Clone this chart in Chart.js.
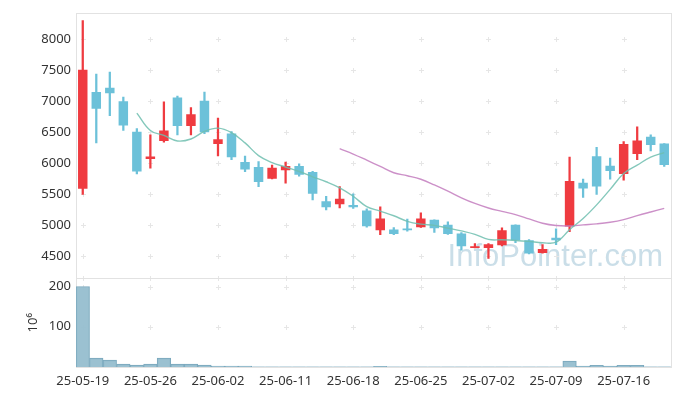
<!DOCTYPE html>
<html>
<head>
<meta charset="utf-8">
<script src="https://cdn.jsdelivr.net/npm/chart.js@4.4.0/dist/chart.umd.min.js"></script>
<style>
  html, body { margin: 0; padding: 0; background: #fff; }
  #wrap { width: 680px; height: 396px; }
</style>
</head>
<body>
<div id="wrap"><canvas id="chart"></canvas></div>
<script>
const dates = ['25-05-19','25-05-20','25-05-21','25-05-22','25-05-23','25-05-26','25-05-27','25-05-28','25-05-29','25-05-30',
  '25-06-02','25-06-04','25-06-05','25-06-09','25-06-10','25-06-11','25-06-12','25-06-13','25-06-16','25-06-17',
  '25-06-18','25-06-19','25-06-20','25-06-23','25-06-24','25-06-25','25-06-26','25-06-27','25-06-30','25-07-01',
  '25-07-02','25-07-03','25-07-04','25-07-07','25-07-08','25-07-09','25-07-10','25-07-11','25-07-14','25-07-15',
  '25-07-16','25-07-17','25-07-18','25-07-21'];
const opens  = [5590,7150,7220,7000,6510,6070,6360,7060,6600,7010, 6310,6480,6020,5940,5750,5890,5955,5860,5390,5340,
  5330,5240,4920,4935,4950,4970,5090,5010,4870,4635, 4635,4680,5010,4760,4555,4800,4980,5685,6115,5960, 5830,6150,6430,6320];
const highs  = [8300,7440,7470,7070,6560,6460,6990,7085,6900,7150, 6730,6510,6115,6030,5970,6020,5990,5870,5470,5625,
  5510,5265,5300,4965,5100,5200,5090,5055,4885,4705, 4705,4960,5010,4770,4690,4945,6100,5745,6260,6085, 6350,6590,6460,6320];
const lows   = [5500,6330,6770,6530,5830,5920,6340,6460,6460,6480, 6120,6060,5865,5625,5750,5680,5795,5410,5250,5280,
  5275,4970,4850,4850,4905,4965,4885,4855,4600,4635, 4465,4670,4720,4540,4550,4690,4900,5450,5500,5745, 5730,6060,6200,5950];
const closes = [7510,6880,7130,6610,5870,6110,6530,6600,6790,6500, 6390,6100,5900,5700,5930,5955,5815,5510,5290,5430,
  5290,4985,5110,4860,4920,5110,4955,4860,4665,4665, 4695,4920,4760,4545,4620,4760,5715,5595,5625,5875, 6310,6370,6295,5975];
// moving averages
const ma5 = [null,null,null,null,6810,6530,6450,6360,6392,6514, 6568,6495,6330,6125,6012,5940,5868,5783,5703,5605,
  5469,5303,5230,5155,5065,5020,5000,4955,4910,4855, 4773,4767,4757,4741,4720,4728,4930,5110,5330,5580, 5835,5970,6100,6172];
const ma20 = [null,null,null,null,null,null,null,null,null,null, null,null,null,null,null,null,null,null,null,6238,
  6150,6051,5950,5848,5800,5743,5652,5551,5444,5353, 5280,5225,5173,5104,5034,4997,4990,5008,5024,5050, 5093,5157,5216,5273];
// volume, units of 10^6
const volumes = [200,22,17,7,5,7,22,7,7,5, 2.5,2.5,2.5,0.6,0.5,0.5,0.5,0.4,0.4,0.5, 0.5,0.4,1.8,0.4,0.4,0.4,0.3,0.3,0.4,0.3,
  0.3,0.4,0.3,0.3,0.3,0.4,15,2,4,2, 4,4,0.5,0.5];
const priceTicks = [4500,5000,5500,6000,6500,7000,7500,8000];
const volumeTicks = [100,200];

const UP = '#ef3b40', DOWN = '#6cc1d9';
const candleColor = opens.map((o, i) => closes[i] >= o ? UP : DOWN);

const frameAndMarks = {
  id: 'frameAndMarks',
  beforeDatasetsDraw(chart) {
    const {ctx, chartArea, scales} = chart;
    const x = scales.x, y = scales.y, yv = scales.yv;
    ctx.save();
    // watermark
    ctx.font = '31px "Liberation Sans", sans-serif';
    ctx.fillStyle = 'rgba(150,190,210,0.5)';
    ctx.textAlign = 'right';
    ctx.textBaseline = 'alphabetic';
    ctx.fillText('InfoPointer.com', chartArea.right - 8, y.bottom - 12);
    // crosses at grid intersections
    ctx.strokeStyle = '#e6e6e6';
    ctx.lineWidth = 1;
    const xs = [];
    dates.forEach((d, i) => { if (i % 5 === 0) xs.push(Math.round(x.getPixelForValue(i)) + 0.5); });
    const ys = priceTicks.map(v => y.getPixelForValue(v)).concat(volumeTicks.map(v => yv.getPixelForValue(v)));
    ys.push(y.bottom);
    ys.forEach(py => {
      py = Math.round(py) + 0.5;
      xs.forEach(px => {
        ctx.beginPath();
        ctx.moveTo(px - 2.5, py); ctx.lineTo(px + 2.5, py);
        ctx.moveTo(px, py - 2.5); ctx.lineTo(px, py + 2.5);
        ctx.stroke();
      });
    });
    // panel frames
    ctx.strokeStyle = '#e2e2e2';
    const l = Math.round(chartArea.left) + 0.5, r = Math.round(chartArea.right) + 0.5;
    ctx.strokeRect(l, Math.round(y.top) + 0.5, r - l, Math.round(y.bottom) - Math.round(y.top));
    ctx.strokeRect(l, Math.round(yv.top) + 0.5, r - l, Math.round(yv.bottom) - Math.round(yv.top));
    ctx.restore();
  }
};

new Chart(document.getElementById('chart'), {
  data: {
    labels: dates,
    datasets: [
      {
        type: 'bar', label: 'wick', yAxisID: 'y', grouped: false, order: 3,
        data: lows.map((l, i) => [l, highs[i]]),
        backgroundColor: candleColor, barThickness: 1.6, borderWidth: 0
      },
      {
        type: 'bar', label: 'body', yAxisID: 'y', grouped: false, order: 2,
        data: opens.map((o, i) => [o, closes[i]]),
        backgroundColor: candleColor, barPercentage: 0.7, categoryPercentage: 1, borderWidth: 0
      },
      {
        type: 'line', label: 'MA5', yAxisID: 'y', order: 1,
        data: ma5, borderColor: 'rgba(110,190,175,0.85)', borderWidth: 1.4,
        pointRadius: 0, tension: 0.4, fill: false
      },
      {
        type: 'line', label: 'MA20', yAxisID: 'y', order: 1,
        data: ma20, borderColor: 'rgba(195,125,190,0.85)', borderWidth: 1.4,
        pointRadius: 0, tension: 0.4, fill: false
      },
      {
        type: 'bar', label: 'volume', yAxisID: 'yv', grouped: false, order: 4,
        data: volumes, backgroundColor: 'rgba(150,190,207,0.95)', borderColor: '#7aa8bd', borderWidth: 1,
        barPercentage: 1, categoryPercentage: 1
      }
    ]
  },
  options: {
    responsive: true,
    maintainAspectRatio: false,
    animation: false,
    layout: { padding: { top: 10, right: 9, left: 0, bottom: 0 } },
    plugins: { legend: { display: false }, tooltip: { enabled: false } },
    scales: {
      x: {
        type: 'category', offset: true,
        grid: { display: false, drawTicks: false },
        border: { display: false },
        ticks: {
          autoSkip: false, maxRotation: 0, padding: 6,
          color: '#333', font: { family: 'Noto Sans', size: 13 },
          callback: (v, i) => i % 5 === 0 ? dates[i] : ''
        },
        afterFit: s => { s.height = 29; }
      },
      yv: {
        type: 'linear', position: 'left', stack: 'main', stackWeight: 1,
        min: 0, max: 220,
        grid: { display: false, drawTicks: false },
        border: { display: false },
        afterBuildTicks: s => { s.ticks = volumeTicks.map(v => ({ value: v })); },
        ticks: { padding: 5, color: '#333', font: { family: 'Noto Sans', size: 13 }, callback: v => String(v) },
        title: { display: true, text: '10⁶', color: '#333', font: { family: 'Noto Sans', size: 13 }, padding: { top: 25, bottom: 0 } },
        afterFit: s => { s.width = 76; }
      },
      y: {
        type: 'linear', position: 'left', stack: 'main', stackWeight: 3,
        min: 4144, max: 8427,
        grid: { display: false, drawTicks: false },
        border: { display: false },
        afterBuildTicks: s => { s.ticks = priceTicks.map(v => ({ value: v })); },
        ticks: { padding: 5, color: '#333', font: { family: 'Noto Sans', size: 13 }, callback: v => String(v) },
        afterFit: s => { s.width = 76; }
      }
    }
  },
  plugins: [frameAndMarks]
});
</script>
</body>
</html>
